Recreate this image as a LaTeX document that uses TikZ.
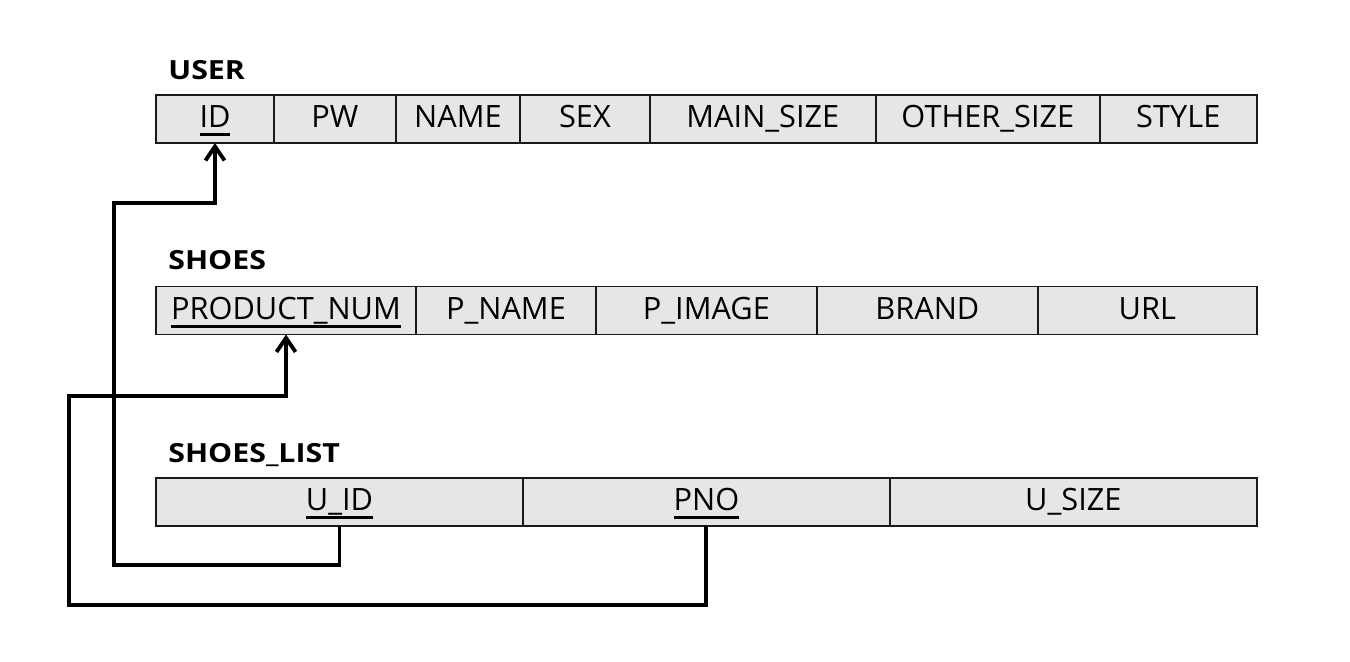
\documentclass[tikz,border=0pt]{standalone}
\usepackage{fontspec}
\setmainfont{Open Sans}
\newfontfamily\titlefont[FakeStretch=1.15]{Open Sans}
\usepackage{tikz}
\usetikzlibrary{positioning,arrows.meta}
\definecolor{cellgray}{HTML}{E6E6E6}
\definecolor{linegray}{HTML}{1A1A1A}
\newcommand{\keyline}[1]{\setbox0\hbox{#1}\rlap{\raisebox{-4.9pt}{\rule{\wd0}{1.7pt}}}\box0}

\begin{document}
\begin{tikzpicture}[x=0.02cm, y=-0.02cm,
  cell/.style={draw=linegray, line width=0.8pt, fill=cellgray, minimum height=0.96cm, text height=13.5pt, text depth=3.8pt, inner sep=0pt, outer sep=0pt, font=\fontsize{17.5}{20}\selectfont},
  tabletitle/.style={anchor=base west, inner sep=0pt, font=\fontsize{15}{18}\titlefont\bfseries},
  fk/.style={draw=black, line width=2.2pt, -{Straight Barb[length=2.8mm, width=3.8mm]}}]
  \useasboundingbox (0,0) rectangle (1350,662);

  % USER
  \node[tabletitle] (tuser) at (168,80) {USER};
  \node[cell, minimum width=2.36cm] (u1) at (215,119) {\keyline{ID}};
  \node[cell, minimum width=2.44cm, right=0pt of u1] (u2) {PW};
  \node[cell, minimum width=2.48cm, right=0pt of u2] (u3) {NAME};
  \node[cell, minimum width=2.6cm, right=0pt of u3] (u4) {SEX};
  \node[cell, minimum width=4.52cm, right=0pt of u4] (u5) {MAIN\_SIZE};
  \node[cell, minimum width=4.48cm, right=0pt of u5] (u6) {OTHER\_SIZE};
  \node[cell, minimum width=3.14cm, right=0pt of u6] (u7) {STYLE};

  % SHOES
  \node[tabletitle] (tshoes) at (168,270) {SHOES};
  \node[cell, minimum width=5.2cm] (s1) at (286,310.5) {\keyline{PRODUCT\_NUM}};
  \node[cell, minimum width=3.6cm, right=0pt of s1] (s2) {P\_NAME};
  \node[cell, minimum width=4.42cm, right=0pt of s2] (s3) {P\_IMAGE};
  \node[cell, minimum width=4.42cm, right=0pt of s3] (s4) {BRAND};
  \node[cell, minimum width=4.38cm, right=0pt of s4] (s5) {URL};

  % SHOES_LIST
  \node[tabletitle] (tlist) at (168,462) {SHOES\_LIST};
  \node[cell, minimum width=7.34cm] (l1) at (339.5,502) {\keyline{U\_ID}};
  \node[cell, minimum width=7.34cm, right=0pt of l1] (l2) {\keyline{PNO}};
  \node[cell, minimum width=7.34cm, right=0pt of l2] (l3) {U\_SIZE};

  % foreign keys
  \coordinate (fa) at (114,565);
  \coordinate (fb) at (114,203);
  \coordinate (fc) at (69,605);
  \coordinate (fd) at (69,396);
  \draw[fk] (l1.south) |- (fa) -- (fb) -| (u1.south);
  \draw[fk] (l2.south) |- (fc) -- (fd) -| (s1.south);
\end{tikzpicture}
\end{document}
